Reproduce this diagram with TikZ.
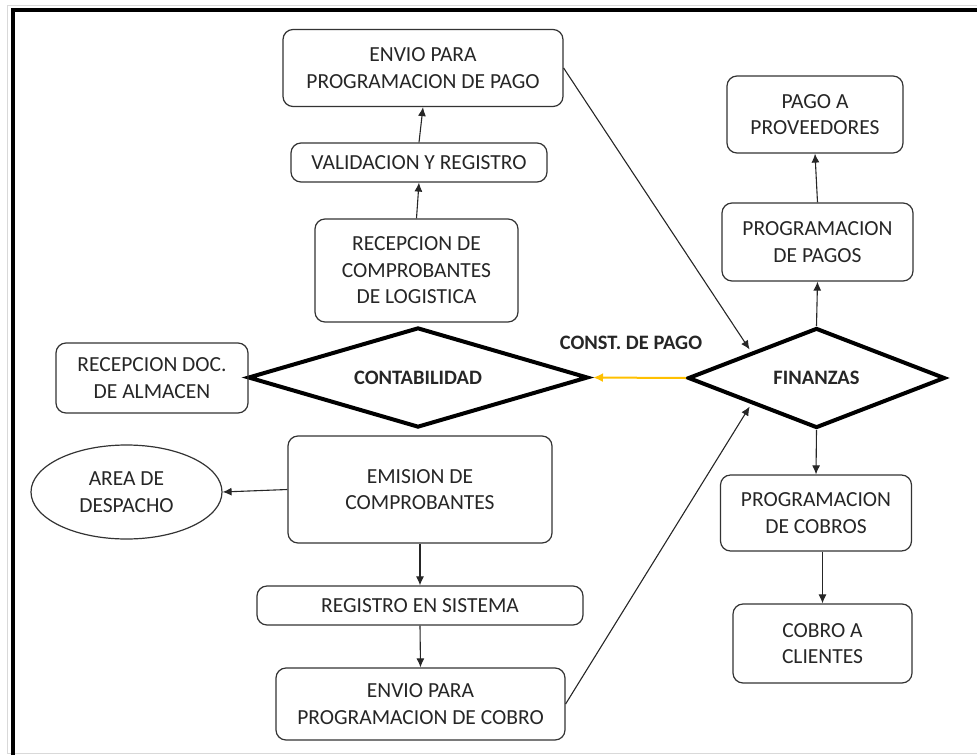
\documentclass[tikz,border=0pt]{standalone}
\usepackage{fontspec}
\setmainfont{Carlito}
\usetikzlibrary{shapes.geometric,arrows.meta,calc}
\definecolor{txt}{HTML}{262626}
\definecolor{gold}{HTML}{FFC000}
\begin{document}
\begin{tikzpicture}[x=1pt,y=-1pt,
  box/.style={draw=black!80,line width=1.2pt,rounded corners=10pt,inner sep=0pt,
    align=center,text=txt,font=\fontsize{21.5}{26.5}\selectfont},
  decision/.style={diamond,draw=black,line width=4pt,inner sep=0pt,text=txt,
    font=\fontsize{20.5}{24}\selectfont\bfseries},
  oval/.style={ellipse,draw=black!80,line width=1.2pt,inner sep=0pt,align=center,
    text=txt,font=\fontsize{21.5}{26.5}\selectfont},
  conn/.style={draw=black!85,line width=1.1pt,-{Latex[length=9pt,width=8pt]}},
  lbl/.style={text=txt,font=\fontsize{20.5}{24}\selectfont\bfseries,inner sep=0pt}]
\useasboundingbox (0,0) rectangle (977,755);
% frame
\draw[black!15,line width=1pt] (7,753) -- (7,5) -- (977,5);
\draw[black!15,line width=1pt] (7,753) -- (977,753);
\draw[black,line width=4pt] (13,755) -- (13,10) -- (977,10);
% left column (pago)
\node[box,minimum width=280pt,minimum height=77pt] (envp) at (423,68) {ENVIO PARA\\PROGRAMACION DE PAGO};
\node[box,minimum width=256pt,minimum height=39pt] (valid) at (419,162.5) {VALIDACION Y REGISTRO};
\node[box,minimum width=203pt,minimum height=103pt] (recl) at (416.5,270.5) {RECEPCION DE\\COMPROBANTES\\DE LOGISTICA};
% diamonds
\node[decision,aspect=3.4,minimum width=340pt,minimum height=100pt] (cont) at (418,377.5) {CONTABILIDAD};
\node[decision,aspect=2.57,minimum width=257pt,minimum height=100pt] (fin) at (816.5,378) {FINANZAS};
\node[lbl] (cdp) at (631,343) {CONST. DE PAGO};
\node[box,minimum width=192pt,minimum height=70pt] (alm) at (152,378) {RECEPCION DOC.\\DE ALMACEN};
% lower column (cobro)
\node[box,minimum width=264pt,minimum height=107pt] (emis) at (420,489.5) {EMISION DE\\COMPROBANTES};
\node[oval,minimum width=191pt,minimum height=94pt] (desp) at (126.5,492) {AREA DE\\DESPACHO};
\node[box,minimum width=326pt,minimum height=39pt] (reg) at (420,605.5) {REGISTRO EN SISTEMA};
\node[box,minimum width=289pt,minimum height=72pt] (envc) at (420.5,704) {ENVIO PARA\\PROGRAMACION DE COBRO};
% right column
\node[box,minimum width=176pt,minimum height=77pt] (pago) at (815,114.5) {PAGO A\\PROVEEDORES};
\node[box,minimum width=191pt,minimum height=78pt] (pagos) at (817.5,242) {PROGRAMACION\\DE PAGOS};
\node[box,minimum width=191pt,minimum height=76pt] (cobros) at (816,513) {PROGRAMACION\\DE COBROS};
\node[box,minimum width=179pt,minimum height=79pt] (cobro) at (822.5,643.5) {COBRO A\\CLIENTES};
% connectors
\draw[conn] (recl.north) -- (valid.south);
\draw[conn] (valid.north) -- (envp.south);
\draw[conn,shorten >=3pt] (envp.east) -- (fin.north west);
\draw[conn,shorten >=3pt] (envc.east) -- (fin.south west);
\draw[draw=gold,line width=2pt,-{Latex[length=10pt,width=9pt]},shorten >=3pt] (fin.west) -- (cont.east);
\draw[conn] (fin.north) -- (pagos.south);
\draw[conn] (pagos.north) -- (pago.south);
\draw[conn] (fin.south) -- (cobros.north);
\draw[conn] (cobros.south -| cobro.north) -- (cobro.north);
\draw[conn] (emis.west) -- (desp.east);
\draw[conn] (emis.south) -- (reg.north);
\draw[conn] (reg.south) -- (envc.north);
\end{tikzpicture}
\end{document}
